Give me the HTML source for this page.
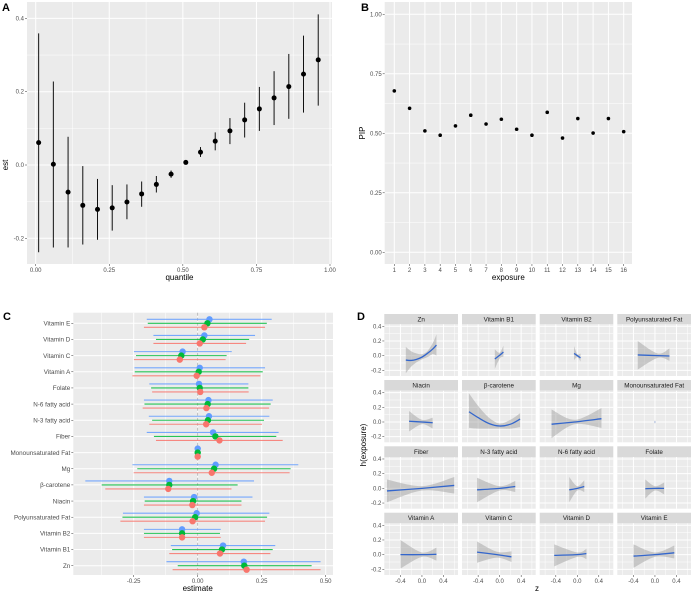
<!DOCTYPE html>
<html><head><meta charset="utf-8">
<style>
body{margin:0;background:#fff;}
svg{display:block;font-family:"Liberation Sans",sans-serif;}
.tick{font-size:6px;fill:#4d4d4d;}
.ttl{font-size:8px;fill:#000;}
.lab{font-size:11px;font-weight:bold;fill:#000;font-family:"Liberation Sans Narrow","Liberation Sans",sans-serif;}
</style></head>
<body>
<svg id="fig" width="693" height="595" viewBox="0 0 693 595"></svg>
<script>
// ---------- Panel A data ----------
const aQuantile=[0.01,0.06,0.11,0.16,0.21,0.26,0.31,0.36,0.41,0.46,0.51,0.56,0.61,0.66,0.71,0.76,0.81,0.86,0.91,0.96];
const aEst=[0.061,0.002,-0.074,-0.110,-0.121,-0.117,-0.101,-0.079,-0.053,-0.025,0.007,0.035,0.065,0.093,0.123,0.153,0.183,0.214,0.248,0.287];
const aLow=[-0.238,-0.225,-0.225,-0.217,-0.204,-0.179,-0.148,-0.114,-0.075,-0.035,0.002,0.022,0.040,0.057,0.075,0.093,0.109,0.126,0.143,0.162];
const aHigh=[0.359,0.228,0.077,-0.003,-0.038,-0.055,-0.053,-0.045,-0.030,-0.015,0.012,0.049,0.089,0.128,0.170,0.213,0.256,0.303,0.353,0.411];
const aXTicks=[0,0.25,0.5,0.75,1];
const aXTickLabels=["0.00","0.25","0.50","0.75","1.00"];
const aYTicks=[-0.2,0,0.2,0.4];
const aYTickLabels=["-0.2","0.0","0.2","0.4"];
// ---------- Panel B data ----------
const bExposure=[1,2,3,4,5,6,7,8,9,10,11,12,13,14,15,16];
const bPIP=[0.678,0.605,0.510,0.492,0.531,0.576,0.539,0.559,0.517,0.492,0.588,0.480,0.562,0.501,0.562,0.507];
const bYTicks=[0,0.25,0.5,0.75,1];
const bYTickLabels=["0.00","0.25","0.50","0.75","1.00"];
// ---------- Panel C data ----------
const cCategories=["Vitamin E","Vitamin D","Vitamin C","Vitamin A","Folate","N-6 fatty acid","N-3 fatty acid","Fiber","Monounsaturated Fat","Mg","β-carotene","Niacin","Polyunsaturated Fat","Vitamin B2","Vitamin B1","Zn"];
const cBlueEst=[0.046,0.026,-0.059,0.008,0.005,0.042,0.044,0.060,0.000,0.070,-0.111,-0.014,-0.004,-0.061,0.099,0.180];
const cBlueLow=[-0.199,-0.173,-0.249,-0.247,-0.189,-0.210,-0.191,-0.199,-0.003,-0.255,-0.439,-0.210,-0.292,-0.210,-0.105,-0.122];
const cBlueHigh=[0.289,0.224,0.133,0.263,0.198,0.293,0.280,0.316,0.003,0.393,0.220,0.214,0.280,0.090,0.303,0.480];
const cGreenEst=[0.038,0.020,-0.064,0.004,0.008,0.039,0.040,0.069,0.000,0.064,-0.111,-0.018,-0.010,-0.061,0.095,0.182];
const cGreenLow=[-0.195,-0.163,-0.241,-0.246,-0.182,-0.208,-0.178,-0.171,-0.003,-0.236,-0.375,-0.207,-0.294,-0.210,-0.100,-0.078];
const cGreenHigh=[0.270,0.201,0.113,0.254,0.198,0.285,0.259,0.307,0.003,0.363,0.156,0.171,0.271,0.087,0.293,0.445];
const cRedEst=[0.026,0.008,-0.070,-0.004,0.010,0.034,0.033,0.085,0.000,0.055,-0.115,-0.021,-0.020,-0.061,0.087,0.191];
const cRedLow=[-0.210,-0.173,-0.249,-0.255,-0.178,-0.215,-0.189,-0.163,-0.003,-0.250,-0.361,-0.210,-0.302,-0.210,-0.111,-0.098];
const cRedHigh=[0.263,0.189,0.109,0.245,0.199,0.279,0.251,0.332,0.003,0.359,0.132,0.171,0.263,0.090,0.284,0.480];
const cXTicks=[-0.25,0,0.25,0.5];
const cXTickLabels=["-0.25","0.00","0.25","0.50"];
// ---------- Panel D data ----------
const dFacets=["Zn","Vitamin B1","Vitamin B2","Polyunsaturated Fat","Niacin","β-carotene","Mg","Monounsaturated Fat","Fiber","N-3 fatty acid","N-6 fatty acid","Folate","Vitamin A","Vitamin C","Vitamin D","Vitamin E"];
const dZ=[[-0.30,-0.2,-0.1,0,0.1,0.2,0.27],[-0.09,0,0.07],[-0.06,0,0.06],[-0.32,0.05,0.27],[-0.24,0,0.2],[-0.57,-0.4,-0.2,0,0.2,0.38],[-0.48,-0.05,0.45],[-0.005,0.005],[-0.65,0,0.6],[-0.42,0,0.29],[-0.15,0,0.13],[-0.18,0,0.17],[-0.4,0,0.27],[-0.42,-0.05,0.22],[-0.43,0,0.17],[-0.4,0,0.36]];
const dH=[[-0.06,-0.065,-0.05,-0.02,0.03,0.09,0.145],[-0.045,0.005,0.05],[0.03,0,-0.03],[0.01,0.0,-0.005],[0.01,0,-0.01],[0.14,0.06,-0.02,-0.055,-0.03,0.04],[-0.03,0.0,0.045],[0,0],[-0.035,0,0.04],[-0.02,0,0.025],[-0.02,0,0.025],[-0.005,0,0],[0,0,0.005],[0.035,0,-0.03],[-0.01,0,0.015],[-0.02,0,0.025]];
const dLo=[[-0.24,-0.15,-0.09,-0.05,-0.02,0.02,0.0],[-0.18,-0.04,-0.014],[-0.06,-0.02,-0.08],[-0.19,-0.03,-0.07],[-0.13,-0.03,-0.09],[-0.08,-0.09,-0.09,-0.09,-0.09,-0.07],[-0.22,-0.03,-0.08],[-0.02,-0.02],[-0.19,-0.03,-0.07],[-0.19,-0.03,-0.05],[-0.19,-0.03,-0.05],[-0.14,-0.03,-0.08],[-0.19,-0.03,-0.08],[-0.11,-0.04,-0.1],[-0.16,-0.03,-0.06],[-0.18,-0.03,-0.05]];
const dHi=[[0.12,0.06,0.03,0.02,0.06,0.17,0.29],[0.086,0.04,0.136],[0.13,0.02,0.03],[0.2,0.03,0.1],[0.15,0.03,0.06],[0.39,0.22,0.06,-0.02,0.03,0.12],[0.17,0.03,0.19],[0.02,0.02],[0.12,0.03,0.155],[0.145,0.03,0.1],[0.155,0.03,0.11],[0.12,0.03,0.08],[0.2,0.03,0.095],[0.18,0.04,0.045],[0.14,0.03,0.08],[0.14,0.03,0.125]];
const dXTicks=[-0.4,0,0.4];
const dXTickLabels=["-0.4","0.0","0.4"];
const dYTicks=[-0.2,0,0.2,0.4];
const dYTickLabels=["-0.2","0.0","0.2","0.4"];

const NS="http://www.w3.org/2000/svg";
const svg=document.getElementById('fig');
function mk(tag,attrs,parent,text){const e=document.createElementNS(NS,tag);for(const k in attrs)e.setAttribute(k,attrs[k]);if(text!==undefined)e.textContent=text;(parent||svg).appendChild(e);return e;}
function lin(d0,d1,r0,r1){return v=>r0+(v-d0)/(d1-d0)*(r1-r0);}
function grp(name){const g=mk('g',{});return g;}
function smooth(pts){ // catmull-rom path
  if(pts.length<3){return 'M'+pts.map(p=>p[0]+','+p[1]).join('L');}
  let d='M'+pts[0][0]+','+pts[0][1];
  for(let i=0;i<pts.length-1;i++){const p0=pts[Math.max(0,i-1)],p1=pts[i],p2=pts[i+1],p3=pts[Math.min(pts.length-1,i+2)];
    const c1=[p1[0]+(p2[0]-p0[0])/6,p1[1]+(p2[1]-p0[1])/6],c2=[p2[0]-(p3[0]-p1[0])/6,p2[1]-(p3[1]-p1[1])/6];
    d+='C'+c1[0]+','+c1[1]+' '+c2[0]+','+c2[1]+' '+p2[0]+','+p2[1];}
  return d;}

// ===== Panel A =====
(function(){
  const g=grp('panel-a');
  const L=27,R=332,T=2,B=264;
  const x=lin(0,1,35.7,330), y=lin(0,0.2,165,91.7);
  const bg=mk('rect',{x:L,y:T,width:R-L,height:B-T,fill:'#ebebeb'},g);
  [0.125,0.375,0.625,0.875].forEach(v=>mk('line',{x1:x(v),x2:x(v),y1:T,y2:B,stroke:'#fff','stroke-width':0.5},g));
  [-0.1,0.1,0.3].forEach(v=>mk('line',{x1:L,x2:R,y1:y(v),y2:y(v),stroke:'#fff','stroke-width':0.5},g));
  aXTicks.forEach((v,i)=>{mk('line',{x1:x(v),x2:x(v),y1:T,y2:B,stroke:'#fff','stroke-width':1},g);mk('line',{x1:x(v),x2:x(v),y1:B,y2:B+2,stroke:'#333','stroke-width':0.5},g);const t=mk('text',{x:x(v),y:B+8,'text-anchor':'middle',class:'tick'},g,aXTickLabels[i]);});
  aYTicks.forEach((v,i)=>{mk('line',{x1:L,x2:R,y1:y(v),y2:y(v),stroke:'#fff','stroke-width':1},g);mk('line',{x1:L-2,x2:L,y1:y(v),y2:y(v),stroke:'#333','stroke-width':0.5},g);const t=mk('text',{x:L-3,y:y(v)+2,'text-anchor':'end',class:'tick'},g,aYTickLabels[i]);});
  aQuantile.forEach((q,i)=>{
    const l=mk('line',{x1:x(q),x2:x(q),y1:y(aLow[i]),y2:y(aHigh[i]),stroke:'#111','stroke-width':1},g);
    
    const c=mk('circle',{cx:x(q),cy:y(aEst[i]),r:2.5,fill:'#000'},g);
    
  });
  const xt=mk('text',{x:(L+R)/2,y:280,'text-anchor':'middle',class:'ttl'},g,'quantile');
  const yt=mk('text',{x:0,y:0,'text-anchor':'middle',class:'ttl',transform:'translate(8,165) rotate(-90)'},g,'est');
  const lb=mk('text',{x:2,y:11,class:'lab'},g,'A');
})();

// ===== Panel B =====
(function(){
  const g=grp('panel-b');
  const L=384.7,R=632,T=2,B=264;
  const x=lin(1,16,394.3,623.7), y=lin(0,1,252.3,14.3);
  const bg=mk('rect',{x:L,y:T,width:R-L,height:B-T,fill:'#ebebeb'},g);
  [0.125,0.375,0.625,0.875].forEach(v=>mk('line',{x1:L,x2:R,y1:y(v),y2:y(v),stroke:'#fff','stroke-width':0.5},g));
  bYTicks.forEach((v,i)=>{mk('line',{x1:L,x2:R,y1:y(v),y2:y(v),stroke:'#fff','stroke-width':1},g);mk('line',{x1:L-2,x2:L,y1:y(v),y2:y(v),stroke:'#333','stroke-width':0.5},g);const t=mk('text',{x:L-3,y:y(v)+2,'text-anchor':'end',class:'tick'},g,bYTickLabels[i]);});
  bExposure.forEach((e,i)=>{
    mk('line',{x1:x(e),x2:x(e),y1:T,y2:B,stroke:'#fff','stroke-width':1},g);
    mk('line',{x1:x(e),x2:x(e),y1:B,y2:B+2,stroke:'#333','stroke-width':0.5},g);
    const t=mk('text',{x:x(e),y:B+8,'text-anchor':'middle',class:'tick'},g,String(e));
  });
  bExposure.forEach((e,i)=>{const c=mk('circle',{cx:x(e),cy:y(bPIP[i]),r:1.8,fill:'#000'},g);});
  const xt=mk('text',{x:(L+R)/2,y:280,'text-anchor':'middle',class:'ttl'},g,'exposure');
  const yt=mk('text',{x:0,y:0,'text-anchor':'middle',class:'ttl',transform:'translate(365,133) rotate(-90)'},g,'PIP');
  const lb=mk('text',{x:361,y:11,class:'lab'},g,'B');
})();

// ===== Panel C =====
(function(){
  const g=grp('panel-c');
  const L=73.3,R=333,T=312.7,B=575;
  const x=lin(0,0.25,197.7,261.7);
  const y=i=>323.3+i*16.16;
  const bg=mk('rect',{x:L,y:T,width:R-L,height:B-T,fill:'#ebebeb'},g);
  [-0.375,-0.125,0.125,0.375].forEach(v=>mk('line',{x1:x(v),x2:x(v),y1:T,y2:B,stroke:'#fff','stroke-width':0.5},g));
  cXTicks.forEach((v,i)=>{mk('line',{x1:x(v),x2:x(v),y1:T,y2:B,stroke:'#fff','stroke-width':1},g);mk('line',{x1:x(v),x2:x(v),y1:B,y2:B+2,stroke:'#333','stroke-width':0.5},g);const t=mk('text',{x:x(v),y:B+8,'text-anchor':'middle',class:'tick'},g,cXTickLabels[i]);});
  cCategories.forEach((c,i)=>{mk('line',{x1:L,x2:R,y1:y(i),y2:y(i),stroke:'#fff','stroke-width':1},g);mk('line',{x1:L-2,x2:L,y1:y(i),y2:y(i),stroke:'#333','stroke-width':0.5},g);const t=mk('text',{x:L-3,y:y(i)+2.2,'text-anchor':'end',class:'tick',style:'font-size:6.3px'},g,c);});
  mk('line',{x1:x(0),x2:x(0),y1:T,y2:B,stroke:'#aaa','stroke-width':0.8,'stroke-dasharray':'3,2'},g);
  const series=[[cBlueEst,cBlueLow,cBlueHigh,'#619CFF',-4,'blue'],[cGreenEst,cGreenLow,cGreenHigh,'#00BA38',0,'green'],[cRedEst,cRedLow,cRedHigh,'#F8766D',4,'red']];
  series.forEach(s=>{
    cCategories.forEach((c,i)=>{
      const yy=y(i)+s[4];
      const l=mk('line',{x1:x(s[1][i]),x2:x(s[2][i]),y1:yy,y2:yy,stroke:s[3],'stroke-width':1.1,'stroke-opacity':0.85},g);
      
    });
  });
  series.forEach(s=>{
    cCategories.forEach((c,i)=>{
      const p=mk('circle',{cx:x(s[0][i]),cy:y(i)+s[4],r:3.2,fill:s[3]},g);
      
    });
  });
  const xt=mk('text',{x:x(0),y:591,'text-anchor':'middle',class:'ttl'},g,'estimate');
  const lb=mk('text',{x:3,y:320,class:'lab'},g,'C');
})();

// ===== Panel D =====
(function(){
  const g=grp('panel-d');
  const cols=[[384.3,458],[462,535.7],[539.7,613.3],[617.3,691]];
  const rows=[[314,324.3,376],[380,390.7,442.3],[446.3,457,508.7],[512.7,523.3,575]];
  dFacets.forEach((name,k)=>{
    const ci=k%4, ri=Math.floor(k/4);
    const [L,R]=cols[ci], [ST,T,B]=rows[ri];
    const x=lin(-0.70,0.67,L,R), y=lin(-0.277,0.427,B,T);
    const fg=mk('g',{},g);
    const st=mk('rect',{x:L,y:ST,width:R-L,height:T-ST,fill:'#d9d9d9'},fg);
    const stt=mk('text',{x:(L+R)/2,y:ST+7.5,'text-anchor':'middle',style:'font-size:6.3px;fill:#1a1a1a'},fg,name);
    mk('rect',{x:L,y:T,width:R-L,height:B-T,fill:'#ebebeb'},fg);
    [-0.6,-0.2,0.2,0.6].forEach(v=>mk('line',{x1:x(v),x2:x(v),y1:T,y2:B,stroke:'#fff','stroke-width':0.5},fg));
    [-0.1,0.1,0.3].forEach(v=>mk('line',{x1:L,x2:R,y1:y(v),y2:y(v),stroke:'#fff','stroke-width':0.5},fg));
    dXTicks.forEach(v=>mk('line',{x1:x(v),x2:x(v),y1:T,y2:B,stroke:'#fff','stroke-width':1},fg));
    dYTicks.forEach(v=>mk('line',{x1:L,x2:R,y1:y(v),y2:y(v),stroke:'#fff','stroke-width':1},fg));
    if(ci===0){dYTicks.forEach((v,i)=>{mk('line',{x1:L-2,x2:L,y1:y(v),y2:y(v),stroke:'#333','stroke-width':0.5},fg);const t=mk('text',{x:L-3,y:y(v)+2,'text-anchor':'end',class:'tick'},fg,dYTickLabels[i]);});}
    if(ri===3){dXTicks.forEach((v,i)=>{mk('line',{x1:x(v),x2:x(v),y1:B,y2:B+2,stroke:'#333','stroke-width':0.5},fg);const t=mk('text',{x:x(v),y:B+8,'text-anchor':'middle',class:'tick'},fg,dXTickLabels[i]);});}
    const z=dZ[k];
    const up=z.map((v,i)=>[x(v),y(dHi[k][i])]);
    const dn=z.map((v,i)=>[x(v),y(dLo[k][i])]).reverse();
    const rib=mk('path',{d:smooth(up)+'L'+smooth(dn).slice(1)+'Z',fill:'#999','fill-opacity':0.45},fg);
    
    const ln=mk('path',{d:smooth(z.map((v,i)=>[x(v),y(dH[k][i])])),fill:'none',stroke:'#3366CC','stroke-width':1.3},fg);
    
  });
  const xt=mk('text',{x:537,y:591,'text-anchor':'middle',class:'ttl'},g,'z');
  const yt=mk('text',{x:0,y:0,'text-anchor':'middle',class:'ttl',transform:'translate(366,445) rotate(-90)'},g,'h(exposure)');
  const lb=mk('text',{x:357,y:320,class:'lab'},g,'D');
})();
</script>
</body></html>
